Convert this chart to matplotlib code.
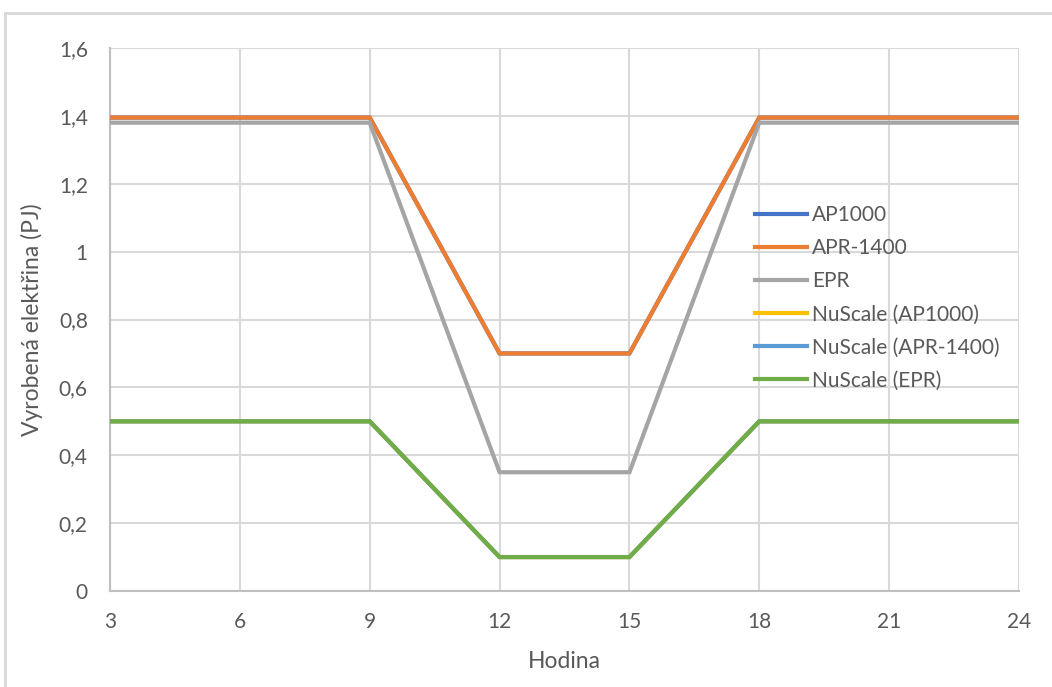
import matplotlib
matplotlib.use("Agg")
import matplotlib.pyplot as plt
from matplotlib.lines import Line2D

# Hours of the day and produced electricity (PJ) per reactor type
hours = [3, 6, 9, 12, 15, 18, 21, 24]
ap1000 = [1.395, 1.395, 1.395, 0.70, 0.70, 1.395, 1.395, 1.395]
apr1400 = [1.395, 1.395, 1.395, 0.70, 0.70, 1.395, 1.395, 1.395]
epr = [1.38, 1.38, 1.38, 0.35, 0.35, 1.38, 1.38, 1.38]
nuscale_ap1000 = [0.5, 0.5, 0.5, 0.1, 0.1, 0.5, 0.5, 0.5]
nuscale_apr1400 = [0.5, 0.5, 0.5, 0.1, 0.1, 0.5, 0.5, 0.5]
nuscale_epr = [0.5, 0.5, 0.5, 0.1, 0.1, 0.5, 0.5, 0.5]

series_names = ["AP1000", "APR-1400", "EPR", "NuScale (AP1000)",
                "NuScale (APR-1400)", "NuScale (EPR)"]
series_values = [ap1000, apr1400, epr, nuscale_ap1000, nuscale_apr1400, nuscale_epr]
series_colors = ["#4472C4", "#ED7D31", "#A5A5A5", "#FFC000", "#5B9BD5", "#70AD47"]

y_ticks = [0, 0.2, 0.4, 0.6, 0.8, 1.0, 1.2, 1.4, 1.6]
y_tick_labels = ["0", "0,2", "0,4", "0,6", "0,8", "1", "1,2", "1,4", "1,6"]
x_label = "Hodina"
y_label = "Vyrobená elektřina (PJ)"

plt.rcParams["font.family"] = ["Lato", "DejaVu Sans"]
text_color = "#595959"
grid_color = "#D9D9D9"

W, H = 1052, 687
fig = plt.figure(figsize=(W / 100, H / 100), dpi=100)
ax = fig.add_axes([110 / W, 1 - 591 / H, (1019 - 110) / W, (591 - 48) / H])

for name, vals, col in zip(series_names, series_values, series_colors):
    ax.plot(hours, vals, color=col, lw=3.0, label=name,
            solid_joinstyle="miter", solid_capstyle="butt", zorder=3)

ax.set_xlim(3, 24)
ax.set_ylim(0, 1.6)
ax.set_xticks(hours)
ax.set_xticklabels([str(h) for h in hours])
ax.set_yticks(y_ticks)
ax.set_yticklabels(y_tick_labels)
ax.tick_params(length=0, labelsize=15, colors=text_color)
ax.tick_params(axis="x", pad=15)
ax.tick_params(axis="y", pad=16)
ax.grid(True, color=grid_color, lw=1.5, zorder=0)
ax.set_axisbelow(True)
for side in ("top", "right"):
    ax.spines[side].set_visible(False)
for side in ("left", "bottom"):
    ax.spines[side].set_color("#BFBFBF")
    ax.spines[side].set_linewidth(1.5)

ax.set_xlabel(x_label, fontsize=16.5, color=text_color, labelpad=14)
ax.set_ylabel(y_label, fontsize=16.5, color=text_color, labelpad=11)

handles = [Line2D([0], [0], color=c, lw=3.0) for c in series_colors]
leg = ax.legend(handles, series_names, loc="upper left",
                bbox_to_anchor=((755 - 110) / (1019 - 110), (591 - 205) / (591 - 48)),
                frameon=False, fontsize=15, handlelength=2.5, handletextpad=0.25,
                labelspacing=0.63, borderaxespad=0, borderpad=0)
for t in leg.get_texts():
    t.set_color(text_color)

# Chart-area border (top and left edges)
fig.add_artist(Line2D([5 / W, 5 / W], [0, 1 - 13 / H], color=grid_color, lw=2,
                      transform=fig.transFigure))
fig.add_artist(Line2D([5 / W, 1], [1 - 13 / H, 1 - 13 / H], color=grid_color, lw=2,
                      transform=fig.transFigure))

fig.savefig("out.png", dpi=100)
